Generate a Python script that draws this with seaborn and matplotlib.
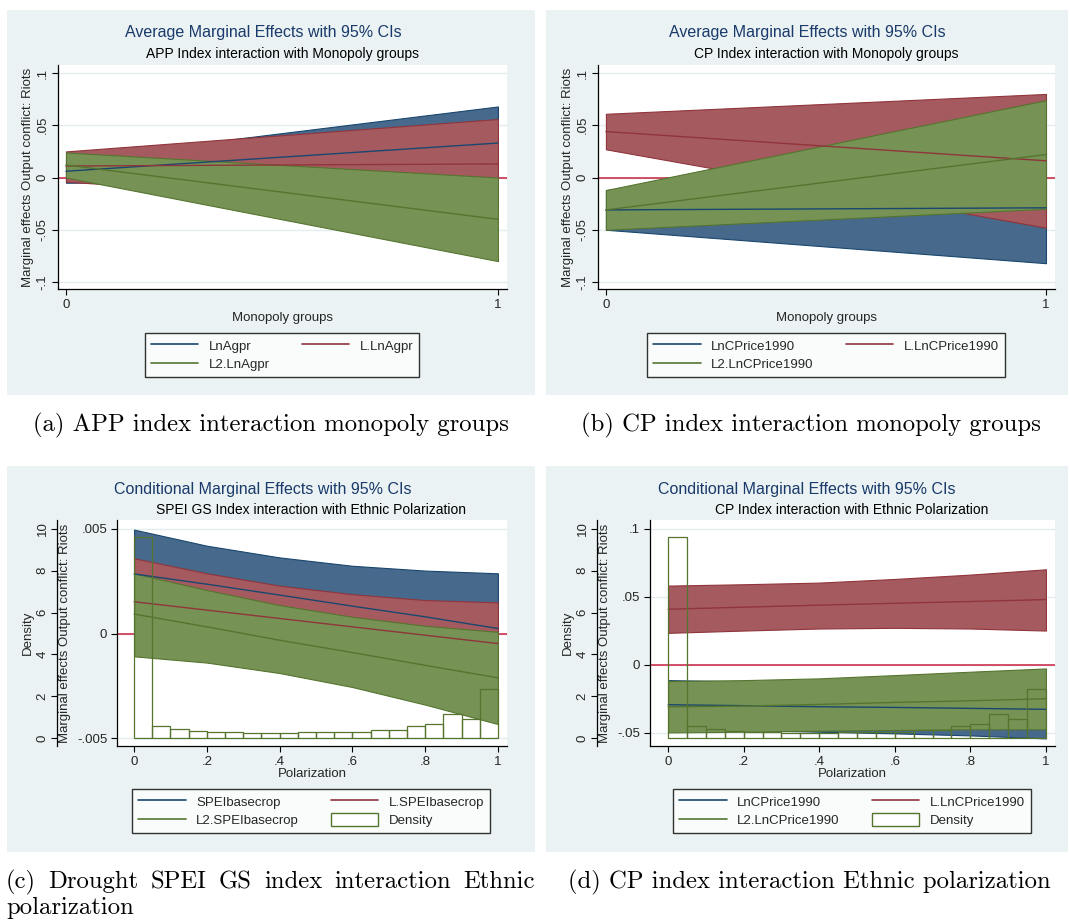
import matplotlib

matplotlib.use('Agg')
import matplotlib.pyplot as plt
from matplotlib.lines import Line2D
from matplotlib.patches import Patch, Rectangle
import numpy as np
import pandas as pd
import seaborn as sns

sns.set_theme(style='ticks')
plt.rcParams['font.family'] = ['Liberation Sans', 'DejaVu Sans']

# %% Data

MONO_X = [0, 1]
POL_X = [0, 0.2, 0.4, 0.6, 0.8, 1]

# (a) APP index x monopoly groups
A_NAMES = ['LnAgpr', 'L.LnAgpr', 'L2.LnAgpr']
A_EST = [[0.006, 0.033], [0.011, 0.013], [0.012, -0.040]]
A_LO = [[-0.005, -0.002], [-0.004, -0.030], [0.000, -0.080]]
A_HI = [[0.017, 0.068], [0.025, 0.056], [0.024, 0.000]]

# (b) CP index x monopoly groups
B_NAMES = ['LnCPrice1990', 'L.LnCPrice1990', 'L2.LnCPrice1990']
B_EST = [[-0.031, -0.029], [0.044, 0.016], [-0.031, 0.022]]
B_LO = [[-0.050, -0.082], [0.027, -0.048], [-0.050, -0.030]]
B_HI = [[-0.012, 0.024], [0.061, 0.080], [-0.012, 0.074]]

# (c) SPEI GS index x ethnic polarization
C_NAMES = ['SPEIbasecrop', 'L.SPEIbasecrop', 'L2.SPEIbasecrop']
C_EST = [[0.00285, 0.00236, 0.00184, 0.00131, 0.00080, 0.00024],
         [0.00152, 0.00112, 0.00072, 0.00032, -0.00008, -0.00048],
         [0.00093, 0.00032, -0.00032, -0.00091, -0.00152, -0.00212]]
C_LO = [[0.00073, 0.00052, 0.00004, -0.00062, -0.00141, -0.00240],
        [-0.00056, -0.00064, -0.00085, -0.00124, -0.00176, -0.00245],
        [-0.00109, -0.00139, -0.00189, -0.00256, -0.00340, -0.00433]]
C_HI = [[0.00497, 0.00420, 0.00364, 0.00324, 0.00301, 0.00288],
        [0.00360, 0.00288, 0.00229, 0.00188, 0.00160, 0.00149],
        [0.00288, 0.00208, 0.00136, 0.00080, 0.00037, 0.00008]]

# (d) CP index x ethnic polarization
D_NAMES = ['LnCPrice1990', 'L.LnCPrice1990', 'L2.LnCPrice1990']
D_EST = [[-0.0294, -0.0301, -0.0309, -0.0314, -0.0321, -0.0328],
         [0.0409, 0.0424, 0.0439, 0.0453, 0.0466, 0.0480],
         [-0.0309, -0.0304, -0.0292, -0.0277, -0.0265, -0.0250]]
D_LO = [[-0.0475, -0.0480, -0.0493, -0.0505, -0.0520, -0.0542],
        [0.0235, 0.0252, 0.0267, 0.0272, 0.0267, 0.0252],
        [-0.0498, -0.0493, -0.0485, -0.0480, -0.0475, -0.0475]]
D_HI = [[-0.0113, -0.0122, -0.0125, -0.0123, -0.0122, -0.0114],
        [0.0583, 0.0593, 0.0605, 0.0632, 0.0664, 0.0703],
        [-0.0120, -0.0113, -0.0100, -0.0076, -0.0051, -0.0027]]

# polarization histogram (bins of 0.05 on [0, 1])
BIN_WIDTH = 0.05
DENSITY = [9.60, 0.58, 0.42, 0.35, 0.29, 0.29, 0.24, 0.26, 0.26, 0.29,
           0.29, 0.29, 0.29, 0.40, 0.40, 0.58, 0.69, 1.17, 0.93, 2.36]

MONO_TICKS, MONO_TICKLABELS = [0, 1], ['0', '1']
POL_TICKS = [0, 0.2, 0.4, 0.6, 0.8, 1]
POL_TICKLABELS = ['0', '.2', '.4', '.6', '.8', '1']
AB_YTICKS = [-0.1, -0.05, 0, 0.05, 0.1]
AB_YTICKLABELS = ['-.1', '-.05', '0', '.05', '.1']
C_YTICKS, C_YTICKLABELS = [-0.005, 0, 0.005], ['-.005', '0', '.005']
D_YTICKS, D_YTICKLABELS = [-0.05, 0, 0.05, 0.1], ['-.05', '0', '.05', '.1']
DENS_TICKS = [0, 2, 4, 6, 8, 10]

# %% Style

LINE_COLORS = ['#1a476f', '#90353b', '#55752f']
BAND_COLORS = ['#46698c', '#a55a5f', '#769255']
ZERO_COLOR = '#c8203f'
REGION_BG = '#eaf2f3'
TITLE_COLOR = '#1a3a6b'
FS = 9.5
YLABEL = 'Marginal effects Output conflict: Riots'

W, H = 1070, 924
fig = plt.figure(figsize=(W / 100, H / 100), dpi=100)
fig.patch.set_facecolor('white')


def fx(px):
    return px / W


def fy(py):
    return 1 - py / H


def add_axes(x0, x1, y0, y1):
    return fig.add_axes([fx(x0), fy(y1), (x1 - x0) / W, (y1 - y0) / H])


def region(x0, x1, y0, y1):
    fig.add_artist(Rectangle((fx(x0), fy(y1)), (x1 - x0) / W, (y1 - y0) / H,
                             transform=fig.transFigure, facecolor=REGION_BG,
                             edgecolor='none', zorder=-10))


def draw_effects(ax, x, est, lo, hi):
    ax.axhline(0, color=ZERO_COLOR, lw=1.1, zorder=1)
    for i in range(len(est)):
        ax.fill_between(x, lo[i], hi[i], facecolor=BAND_COLORS[i],
                        edgecolor=LINE_COLORS[i], linewidth=0.8, zorder=2)
    for i in range(len(est)):
        sns.lineplot(x=x, y=est[i], color=LINE_COLORS[i], lw=1.0, ax=ax,
                     zorder=3)


def style_axes(ax, xticks, xticklabels, yticks, yticklabels, xlabel,
               ylabel_x, xlabel_y, rotate_y):
    ax.set_facecolor('white')
    for side in ['top', 'right']:
        ax.spines[side].set_visible(False)
    for side in ['left', 'bottom']:
        ax.spines[side].set_color('black')
        ax.spines[side].set_linewidth(0.9)
    ax.set_xticks(xticks)
    ax.set_xticklabels(xticklabels, fontsize=FS)
    ax.set_yticks(yticks)
    ax.set_yticklabels(yticklabels, fontsize=FS)
    if rotate_y:
        for lab in ax.get_yticklabels():
            lab.set_rotation(90)
            lab.set_va('center')
    ax.tick_params(direction='out', length=4, width=0.8, color='black',
                   pad=3)
    ax.yaxis.grid(True, color='#e4edef', linewidth=1.0)
    ax.xaxis.grid(False)
    ax.set_axisbelow(True)
    ax.set_xlabel(xlabel, fontsize=FS)
    ax.xaxis.set_label_coords(0.5, xlabel_y)
    ax.xaxis.label.set_va('center')
    ax.set_ylabel(YLABEL, fontsize=FS)
    ax.yaxis.set_label_coords(ylabel_x, 0.5)
    ax.yaxis.label.set_va('center')


def add_density(ax, spine_x, label_x):
    axd = ax.twinx()
    lefts = np.arange(len(DENSITY)) * BIN_WIDTH
    hist = pd.DataFrame({'pol': lefts + BIN_WIDTH / 2, 'dens': DENSITY})
    sns.histplot(data=hist, x='pol', weights='dens', binwidth=BIN_WIDTH,
                 binrange=(0, 1), stat='count', fill=False,
                 color=LINE_COLORS[2], linewidth=0.9, ax=axd)
    axd.set_ylim(-0.38, 10.43)
    axd.yaxis.tick_left()
    axd.yaxis.set_label_position('left')
    for side in ['top', 'right', 'bottom']:
        axd.spines[side].set_visible(False)
    axd.spines['left'].set_position(('axes', spine_x))
    axd.spines['left'].set_color('black')
    axd.spines['left'].set_linewidth(0.9)
    axd.set_yticks(DENS_TICKS)
    axd.set_yticklabels([str(t) for t in DENS_TICKS], fontsize=FS)
    for lab in axd.get_yticklabels():
        lab.set_rotation(90)
        lab.set_va('center')
    axd.tick_params(direction='out', length=4, width=0.8, color='black',
                    pad=2)
    axd.set_ylabel('Density', fontsize=FS)
    axd.yaxis.set_label_coords(label_x, 0.5)
    axd.yaxis.label.set_va('center')
    axd.set_xlabel('')
    axd.grid(False)
    return axd


def legend(names, cx, cy, density=False):
    handles = [Line2D([], [], color=c, lw=1.2) for c in LINE_COLORS]
    labels = list(names)
    if density:
        handles.append(Patch(facecolor='white', edgecolor=LINE_COLORS[2],
                             lw=1.0))
        labels.append('Density')
        order = [0, 2, 1, 3]
    else:
        order = [0, 2, 1]
    leg = fig.legend([handles[i] for i in order], [labels[i] for i in order],
                     ncol=2, loc='center', bbox_to_anchor=(fx(cx), fy(cy)),
                     bbox_transform=fig.transFigure, fontsize=FS,
                     frameon=True, fancybox=False, handlelength=3.6,
                     handleheight=1.1, columnspacing=2.4, borderpad=0.45,
                     labelspacing=0.35, handletextpad=0.8)
    leg.get_frame().set_edgecolor('black')
    leg.get_frame().set_linewidth(1.0)
    leg.get_frame().set_facecolor('white')


def titles(cx_title, cx_sub, y_title, y_sub, title, sub):
    fig.text(fx(cx_title), fy(y_title), title, ha='center', va='center',
             fontsize=11.5, color=TITLE_COLOR)
    fig.text(fx(cx_sub), fy(y_sub), sub, ha='center', va='center',
             fontsize=10, color='black')


CAP = dict(fontsize=17.8, family=['cmr10', 'DejaVu Serif'], color='black')


def justified_line(text, x0, x1, y):
    # spread the words of one caption line over [x0, x1] pixels
    renderer = fig.canvas.get_renderer()
    words = text.split()
    items = [fig.text(0, fy(y), w, ha='left', va='center', **CAP)
             for w in words]
    widths = [t.get_window_extent(renderer).width for t in items]
    gap = (x1 - x0 - sum(widths)) / (len(words) - 1)
    pos = x0
    for t, w in zip(items, widths):
        t.set_x(fx(pos))
        pos += w + gap


# %% Panel backgrounds

region(7, 535, 10, 395)
region(546, 1068, 10, 395)
region(7, 535, 466, 852)
region(546, 1068, 466, 852)

# %% (a)

ax = add_axes(58, 507, 65, 289)
draw_effects(ax, MONO_X, A_EST, A_LO, A_HI)
ax.set_xlim(-0.0185, 1.021)
ax.set_ylim(-0.1067, 0.1077)
style_axes(ax, MONO_TICKS, MONO_TICKLABELS, AB_YTICKS, AB_YTICKLABELS,
           'Monopoly groups', -0.067, -0.13, True)
titles(263, 282, 33, 54, 'Average Marginal Effects with 95% CIs',
       'APP Index interaction with Monopoly groups')
legend(A_NAMES, 282, 355)

# %% (b)

ax = add_axes(598, 1055, 65, 289)
draw_effects(ax, MONO_X, B_EST, B_LO, B_HI)
ax.set_xlim(-0.018, 1.0205)
ax.set_ylim(-0.1067, 0.1077)
style_axes(ax, MONO_TICKS, MONO_TICKLABELS, AB_YTICKS, AB_YTICKLABELS,
           'Monopoly groups', -0.066, -0.13, True)
titles(807, 826, 33, 54, 'Average Marginal Effects with 95% CIs',
       'CP Index interaction with Monopoly groups')
legend(B_NAMES, 826, 355)

# %% (c)

ax = add_axes(117, 507, 520, 746)
draw_effects(ax, POL_X, C_EST, C_LO, C_HI)
ax.set_ylim(-0.00538, 0.00543)
style_axes(ax, POL_TICKS, POL_TICKLABELS, C_YTICKS, C_YTICKLABELS,
           'Polarization', -0.133, -0.124, False)
add_density(ax, -0.154, -0.228)
ax.set_xlim(-0.047, 1.025)
titles(263, 311, 489, 510, 'Conditional Marginal Effects with 95% CIs',
       'SPEI GS Index interaction with Ethnic Polarization')
legend(C_NAMES, 311, 811, density=True)

# %% (d)

ax = add_axes(650, 1055, 520, 746)
draw_effects(ax, POL_X, D_EST, D_LO, D_HI)
ax.set_ylim(-0.0598, 0.1066)
style_axes(ax, POL_TICKS, POL_TICKLABELS, D_YTICKS, D_YTICKLABELS,
           'Polarization', -0.111, -0.124, False)
add_density(ax, -0.131, -0.202)
ax.set_xlim(-0.048, 1.024)
titles(807, 852, 489, 510, 'Conditional Marginal Effects with 95% CIs',
       'CP Index interaction with Ethnic Polarization')
legend(D_NAMES, 852, 811, density=True)

# %% Captions

fig.text(fx(271), fy(425), '(a) APP index interaction monopoly groups',
         ha='center', va='center', **CAP)
fig.text(fx(811), fy(425), '(b) CP index interaction monopoly groups',
         ha='center', va='center', **CAP)
justified_line('(c) Drought SPEI GS index interaction Ethnic', 6, 535, 882)
fig.text(fx(6), fy(908), 'polarization', ha='left', va='center', **CAP)
fig.text(fx(809), fy(882), '(d) CP index interaction Ethnic polarization',
         ha='center', va='center', **CAP)

fig.savefig('out.png', dpi=100, facecolor='white')
plt.close(fig)
print("Saved out.png")
